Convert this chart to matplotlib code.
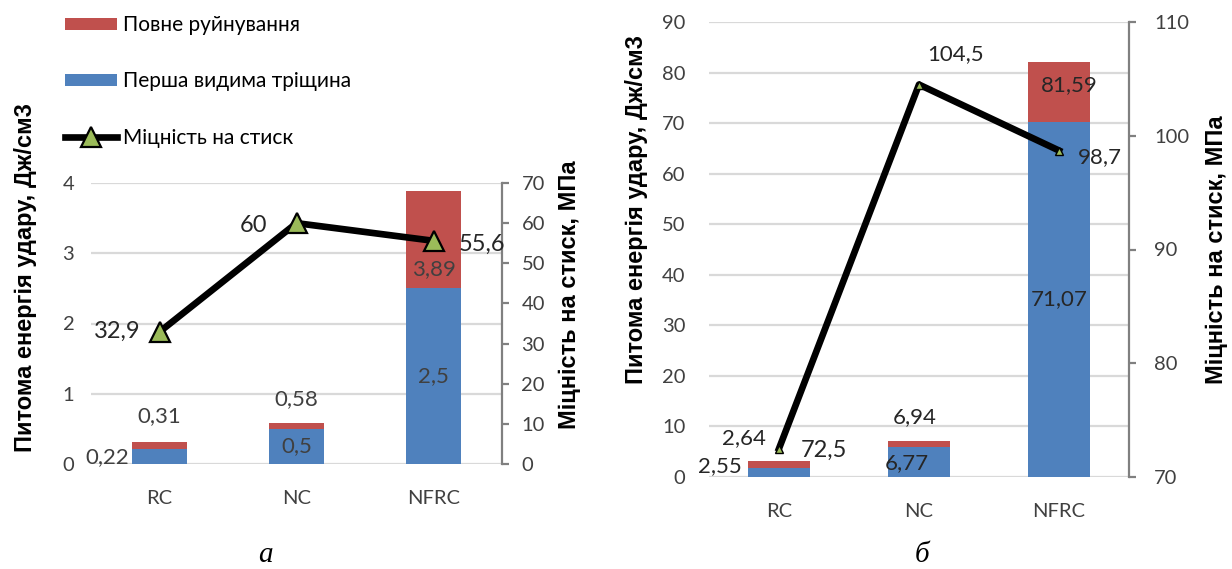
import matplotlib.pyplot as plt
import numpy as np

plt.rcParams['font.family'] = ['Lato', 'Open Sans', 'DejaVu Sans']

categories = ['RC', 'NC', 'NFRC']

# panel a
a_crack = [0.22, 0.5, 2.5]
a_total = [0.31, 0.58, 3.89]
a_strength = [32.9, 60, 55.6]

# panel b (bar heights as drawn, labels as printed)
b_crack = [1.7, 5.9, 70.3]
b_total = [3.1, 7.2, 82.0]
b_strength = [72.5, 104.5, 98.7]
b_crack_lbl = ['2,55', '6,77', '71,07']
b_total_lbl = ['2,64', '6,94', '81,59']

RED = '#C0504D'
BLUE = '#4F81BD'
GREEN = '#9BBB59'
GRID = '#D9D9D9'
W, H = 1232, 569


def fmt(v):
    return ('%g' % v).replace('.', ',')


def lbl(ax, text, xy, dx=0, dy=0, ha='center', size=16, color='#404040'):
    ax.annotate(text, xy, xytext=(dx, dy), textcoords='offset pixels',
                ha=ha, va='center', fontsize=size, color=color)


def setup(ax, ax2, ylim, yticks, y2lim, y2ticks, lpad, rpad):
    ax.set_xlim(-0.5, 2.5)
    ax.set_ylim(*ylim)
    ax.set_yticks(yticks)
    ax.yaxis.grid(True, color=GRID, lw=1.6)
    ax.set_axisbelow(True)
    for s in ax.spines.values():
        s.set_visible(False)
    ax.tick_params(axis='y', length=0, labelsize=14.5, colors='#404040', pad=lpad)
    ax.set_xticks(range(3))
    ax.set_xticklabels(categories)
    ax.tick_params(axis='x', length=0, labelsize=14.5, colors='#404040', pad=19)
    ax2.set_ylim(*y2lim)
    ax2.set_yticks(y2ticks)
    for k in ['top', 'left', 'bottom']:
        ax2.spines[k].set_visible(False)
    ax2.spines['right'].set_color('#808080')
    ax2.spines['right'].set_linewidth(1.6)
    ax2.tick_params(axis='y', direction='out', length=5, width=1.6, color='#808080',
                    labelsize=14.5, labelcolor='#404040', pad=rpad)


fig = plt.figure(figsize=(W / 100, H / 100), dpi=100)
x = np.arange(3)

# ---- panel a
ax = fig.add_axes([91 / W, (H - 464) / H, 411 / W, 281 / H])
ax2 = ax.twinx()
red_a = np.array(a_total) - np.array(a_crack)
ax.bar(x, a_crack, width=0.40, color=BLUE, label='Перша видима тріщина')
ax.bar(x, red_a, bottom=a_crack, width=0.40, color=RED, label='Повне руйнування')
setup(ax, ax2, (0, 4), [0, 1, 2, 3, 4], (0, 70), range(0, 71, 10), 12, 9)
ln, = ax2.plot(x, a_strength, color='black', lw=4.8, marker='^', ms=14,
               mfc=GREEN, mec='black', mew=1.6, label='Міцність на стиск')

lbl(ax, fmt(a_crack[0]), (x[0], 0), dx=-30, dy=7, ha='right')
lbl(ax, fmt(a_total[0]), (x[0], a_total[0]), dy=26)
lbl(ax, fmt(a_crack[1]), (x[1], a_crack[1] / 2))
lbl(ax, fmt(a_total[1]), (x[1], a_total[1]), dy=24)
lbl(ax, fmt(a_crack[2]), (x[2], a_crack[2] / 2))
lbl(ax, fmt(a_total[2]), (x[2], a_crack[2]), dy=19)
lbl(ax2, fmt(a_strength[0]), (x[0], a_strength[0]), dx=-19, dy=1, ha='right', size=17, color='#262626')
lbl(ax2, fmt(a_strength[1]), (x[1], a_strength[1]), dx=-29, dy=-2, ha='right', size=17, color='#262626')
lbl(ax2, fmt(a_strength[2]), (x[2], a_strength[2]), dx=25, dy=-4, ha='left', size=17, color='#262626')

ax.set_ylabel('Питома енергія удару, Дж/см3', fontsize=17, fontweight='bold',
              family='Liberation Sans')
ax.yaxis.set_label_coords(-0.131, 0.662)
ax2.set_ylabel('Міцність на стиск, МПа', fontsize=17, fontweight='bold',
               family='Liberation Sans')
ax2.yaxis.set_label_coords(1.136, 0.601)

h, l = ax.get_legend_handles_labels()
fig.legend([h[1], h[0], ln], [l[1], l[0], ln.get_label()], loc='upper left',
           bbox_to_anchor=(65 / W, 1 - 15 / H), frameon=False, fontsize=15,
           handlelength=2.5, handleheight=0.5, handletextpad=0.3,
           labelspacing=1.75, borderaxespad=0, borderpad=0)

# ---- panel b
bx = fig.add_axes([709 / W, (H - 477) / H, 420 / W, 455 / H])
bx2 = bx.twinx()
red_b = np.array(b_total) - np.array(b_crack)
bx.bar(x, b_crack, width=0.44, color=BLUE)
bx.bar(x, red_b, bottom=b_crack, width=0.44, color=RED)
setup(bx, bx2, (0, 90), range(0, 91, 10), (70, 110), [70, 80, 90, 100, 110], 17, 13)
bx2.plot(x, b_strength, color='black', lw=4.8, marker='^', ms=6,
         mfc=GREEN, mec='black', mew=1)

DK = '#262626'
lbl(bx, b_crack_lbl[0], (x[0], 0), dx=-37, dy=11, ha='right', color=DK)
lbl(bx, b_total_lbl[0], (x[0], b_total[0]), dx=-35, dy=23, color=DK)
lbl(bx, b_crack_lbl[1], (x[1], 0), dx=-12, dy=14, color=DK)
lbl(bx, b_total_lbl[1], (x[1], b_total[1]), dx=-4, dy=24, color=DK)
lbl(bx, b_crack_lbl[2], (x[2], b_crack[2] / 2), color=DK)
lbl(bx, b_total_lbl[2], (x[2], (b_crack[2] + b_total[2]) / 2), dx=10, dy=7, color=DK)
lbl(bx2, fmt(b_strength[0]), (x[0], b_strength[0]), dx=22, dy=-2, ha='left', size=17, color=DK)
lbl(bx2, fmt(b_strength[1]), (x[1], b_strength[1]), dx=37, dy=30, size=16, color=DK)
lbl(bx2, fmt(b_strength[2]), (x[2], b_strength[2]), dx=19, dy=-7, ha='left', size=16, color=DK)

bx.set_ylabel('Питома енергія удару, Дж/см3', fontsize=17, fontweight='bold',
              family='Liberation Sans')
bx.yaxis.set_label_coords(-0.145, 0.587)
bx2.set_ylabel('Міцність на стиск, МПа', fontsize=17, fontweight='bold',
               family='Liberation Sans')
bx2.yaxis.set_label_coords(1.181, 0.499)

fig.text(265 / W, 1 - 555 / H, 'а', fontsize=21, style='italic', family='Liberation Serif',
         ha='center', va='center')
fig.text(922 / W, 1 - 555 / H, 'б', fontsize=21, style='italic', family='Liberation Serif',
         ha='center', va='center')

fig.savefig('out.png', dpi=100)
